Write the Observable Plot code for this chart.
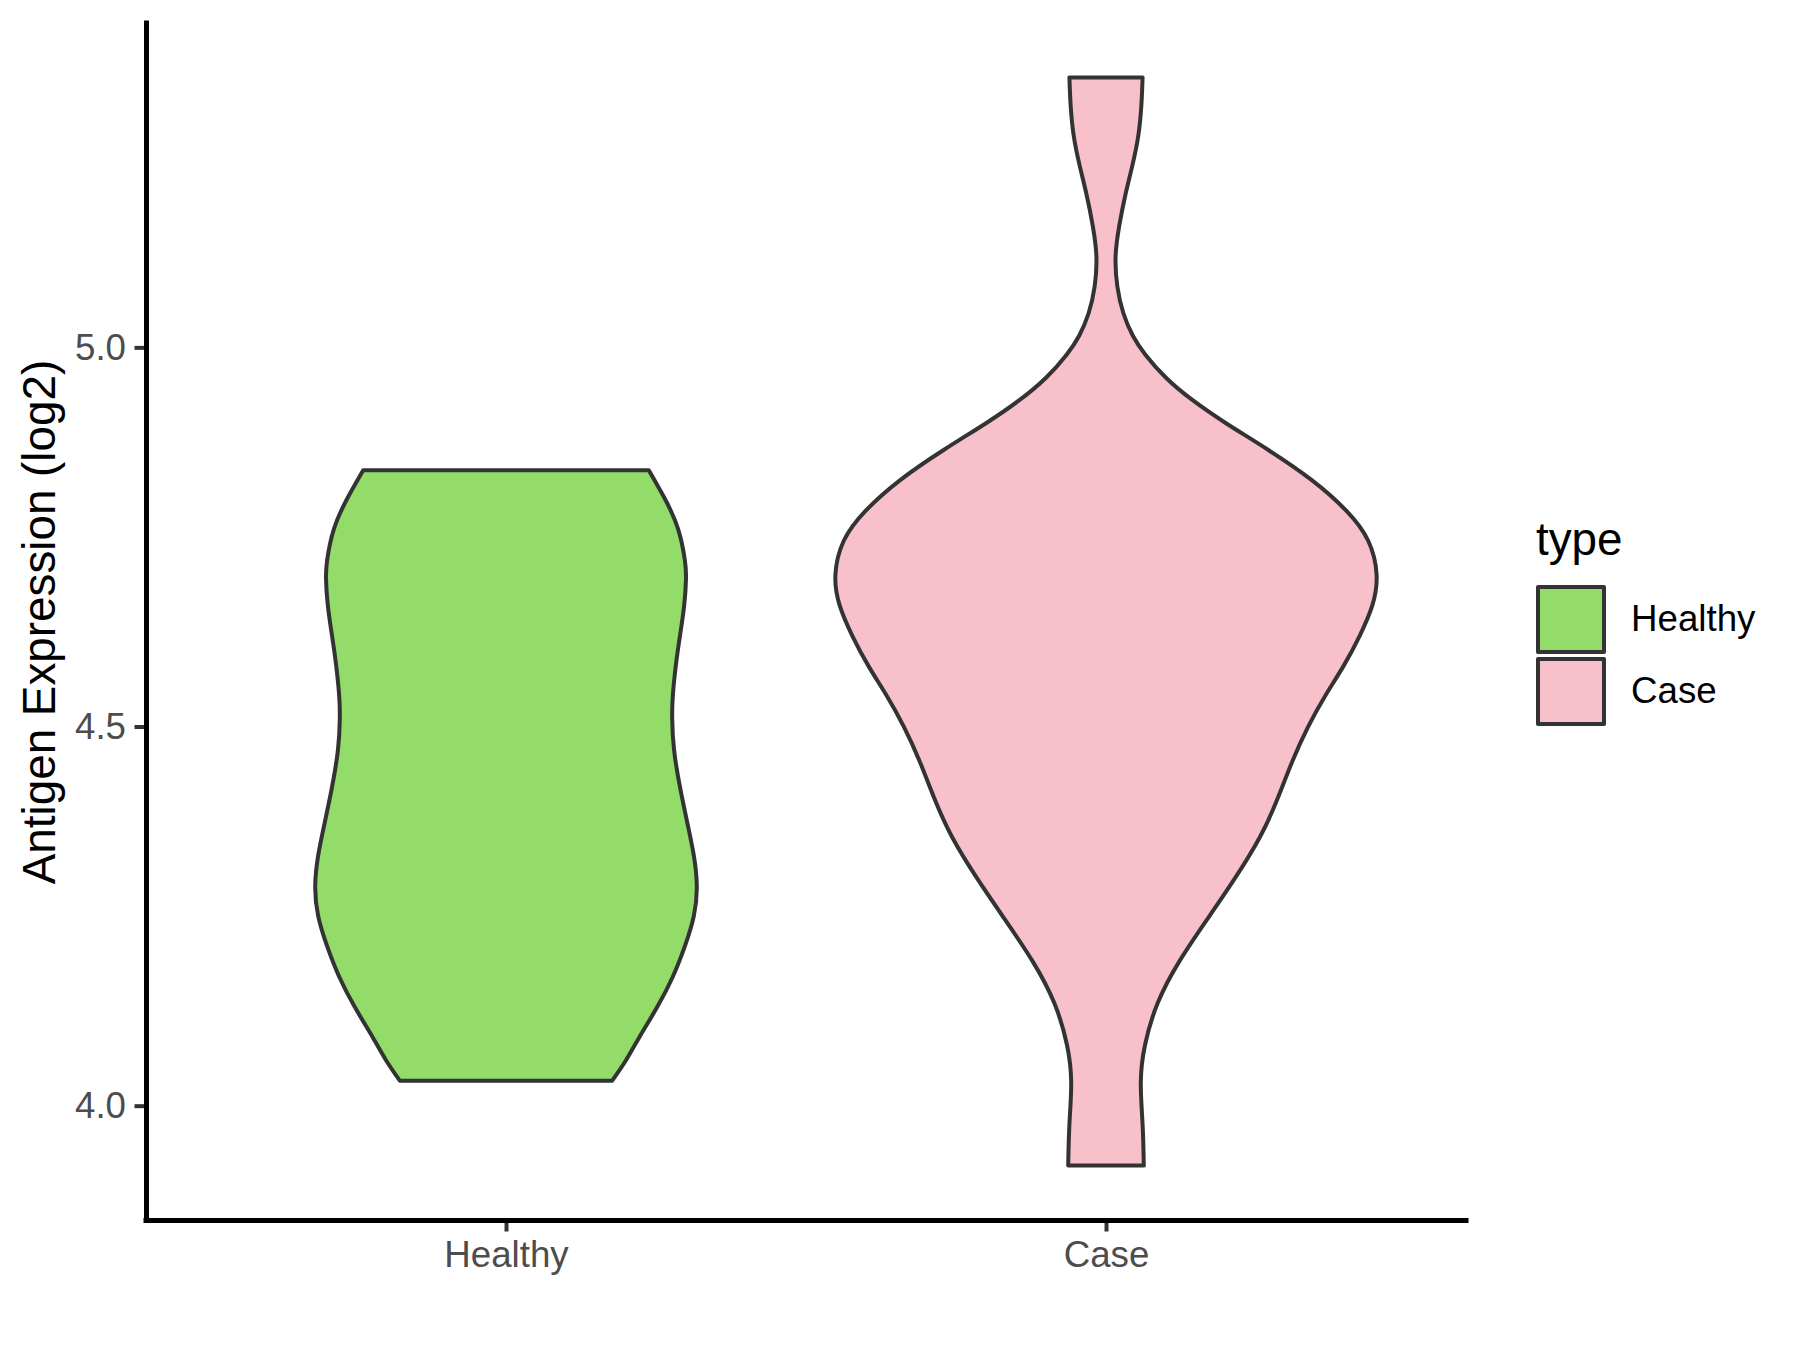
<!DOCTYPE html>
<html>
<head>
<meta charset="utf-8">
<script src="https://cdn.jsdelivr.net/npm/d3@7"></script>
<script src="https://cdn.jsdelivr.net/npm/@observablehq/plot@0.6"></script>
<style>
  html, body { margin: 0; padding: 0; background: #ffffff; }
  #wrap { position: relative; width: 1800px; height: 1350px; font-family: "Liberation Sans", Arial, sans-serif; }
  #wrap svg { position: absolute; left: 0; top: 0; }
  .ytitle { position: absolute; white-space: nowrap; font-size: 45.8px; line-height: 1; color: #000;
            transform: translate(-50%, -50%) rotate(-90deg); }
  .legend { position: absolute; left: 1536px; top: 517px; color: #000; }
  .legend .ltitle { font-size: 45.8px; line-height: 1; margin-bottom: 20.5px; }
  .legend .row { display: flex; align-items: center; height: 72px; }
  .legend .key { box-sizing: border-box; width: 70px; height: 69px; border: 4px solid #333333; border-radius: 2px; }
  .legend .lab { font-size: 36.7px; margin-left: 25px; line-height: 1; }
</style>
</head>
<body>
<div id="wrap"></div>
<script>
// ---- data ----
const categories = ["Healthy", "Case"];
const categoryPositions = [1, 2];
const fillColors = ["#93DC6A", "#F8C0CB"];

// violin outline of "Healthy": expression value and half-width (in category units)
const healthyValues = [4.838, 4.800, 4.760, 4.720, 4.695, 4.660, 4.620, 4.580, 4.540, 4.510, 4.470, 4.420, 4.370, 4.330, 4.290, 4.250, 4.210, 4.170, 4.130, 4.090, 4.060, 4.033];
const healthyHalfWidths = [0.238, 0.265, 0.287, 0.298, 0.300, 0.297, 0.290, 0.283, 0.278, 0.277, 0.280, 0.290, 0.303, 0.313, 0.318, 0.313, 0.298, 0.278, 0.252, 0.222, 0.200, 0.177];

// violin outline of "Case"
const caseValues = [5.356, 5.320, 5.280, 5.240, 5.200, 5.160, 5.120, 5.080, 5.045, 5.015, 4.990, 4.960, 4.930, 4.900, 4.865, 4.825, 4.785, 4.745, 4.700, 4.660, 4.620, 4.580, 4.540, 4.500, 4.455, 4.405, 4.355, 4.300, 4.245, 4.190, 4.135, 4.080, 4.030, 3.975, 3.921];
const caseHalfWidths = [0.061, 0.059, 0.054, 0.044, 0.032, 0.022, 0.016, 0.019, 0.029, 0.045, 0.066, 0.100, 0.145, 0.200, 0.270, 0.343, 0.400, 0.437, 0.451, 0.444, 0.423, 0.396, 0.365, 0.337, 0.311, 0.286, 0.257, 0.215, 0.168, 0.122, 0.086, 0.065, 0.058, 0.061, 0.063];

const yTicks = [4.0, 4.5, 5.0];
const yTitle = "Antigen Expression (log2)";
const legendTitle = "type";

// ---- build table for the library ----
const profiles = [
  {values: healthyValues, widths: healthyHalfWidths},
  {values: caseValues, widths: caseHalfWidths}
];
const rows = [];
categories.forEach((c, i) => {
  const p = profiles[i];
  p.values.forEach((v, j) => rows.push({
    type: c, value: v,
    x1: categoryPositions[i] - p.widths[j],
    x2: categoryPositions[i] + p.widths[j]
  }));
});

// ggplot-style expansion of scales
const allValues = [...healthyValues, ...caseValues];
const vmin = d3.min(allValues), vmax = d3.max(allValues);
const pad = (vmax - vmin) * 0.05;
const yDomain = [vmin - pad, vmax + pad];
const xDomain = [categoryPositions[0] - 0.6, categoryPositions[categoryPositions.length - 1] + 0.6];

const font = "Liberation Sans, Arial, sans-serif";

const chart = Plot.plot({
  width: 1800,
  height: 1350,
  marginLeft: 146,
  marginRight: 334,
  marginTop: 23,
  marginBottom: 130,
  style: {fontFamily: font, background: "#ffffff", overflow: "visible"},
  x: {domain: xDomain, axis: null},
  y: {domain: yDomain, axis: null},
  color: {domain: categories, range: fillColors},
  marks: [
    Plot.areaX(rows, {
      y: "value", x1: "x1", x2: "x2", z: "type", fill: "type",
      stroke: "#333333", strokeWidth: 4, strokeLinejoin: "round",
      curve: "natural"
    }),
    Plot.axisX(categoryPositions, {
      anchor: "bottom",
      tickFormat: d => categories[categoryPositions.indexOf(d)],
      tickSize: 11.5, tickPadding: 9,
      stroke: "#333333", strokeWidth: 4,
      fill: "#4D4D4D", fontSize: 36.7, fontFamily: font,
      label: null
    }),
    Plot.axisY(yTicks, {
      anchor: "left",
      tickFormat: d3.format(".1f"),
      tickSize: 11.5, tickPadding: 9,
      stroke: "#333333", strokeWidth: 4,
      fill: "#4D4D4D", fontSize: 36.7, fontFamily: font,
      label: null
    }),
    Plot.ruleY([yDomain[0]], {stroke: "#000000", strokeWidth: 5, strokeLinecap: "square"}),
    Plot.ruleX([xDomain[0]], {stroke: "#000000", strokeWidth: 5, strokeLinecap: "square"})
  ]
});

const wrap = document.getElementById("wrap");
wrap.appendChild(chart);

// y-axis title
const yt = document.createElement("div");
yt.className = "ytitle";
yt.textContent = yTitle;
yt.style.left = "40px";
yt.style.top = ((23 + 1220) / 2) + "px";
wrap.appendChild(yt);

// legend
const lg = document.createElement("div");
lg.className = "legend";
const lt = document.createElement("div");
lt.className = "ltitle";
lt.textContent = legendTitle;
lg.appendChild(lt);
categories.forEach((c, i) => {
  const row = document.createElement("div");
  row.className = "row";
  const key = document.createElement("div");
  key.className = "key";
  key.style.background = fillColors[i];
  const lab = document.createElement("div");
  lab.className = "lab";
  lab.textContent = c;
  row.appendChild(key);
  row.appendChild(lab);
  lg.appendChild(row);
});
wrap.appendChild(lg);
</script>
</body>
</html>
